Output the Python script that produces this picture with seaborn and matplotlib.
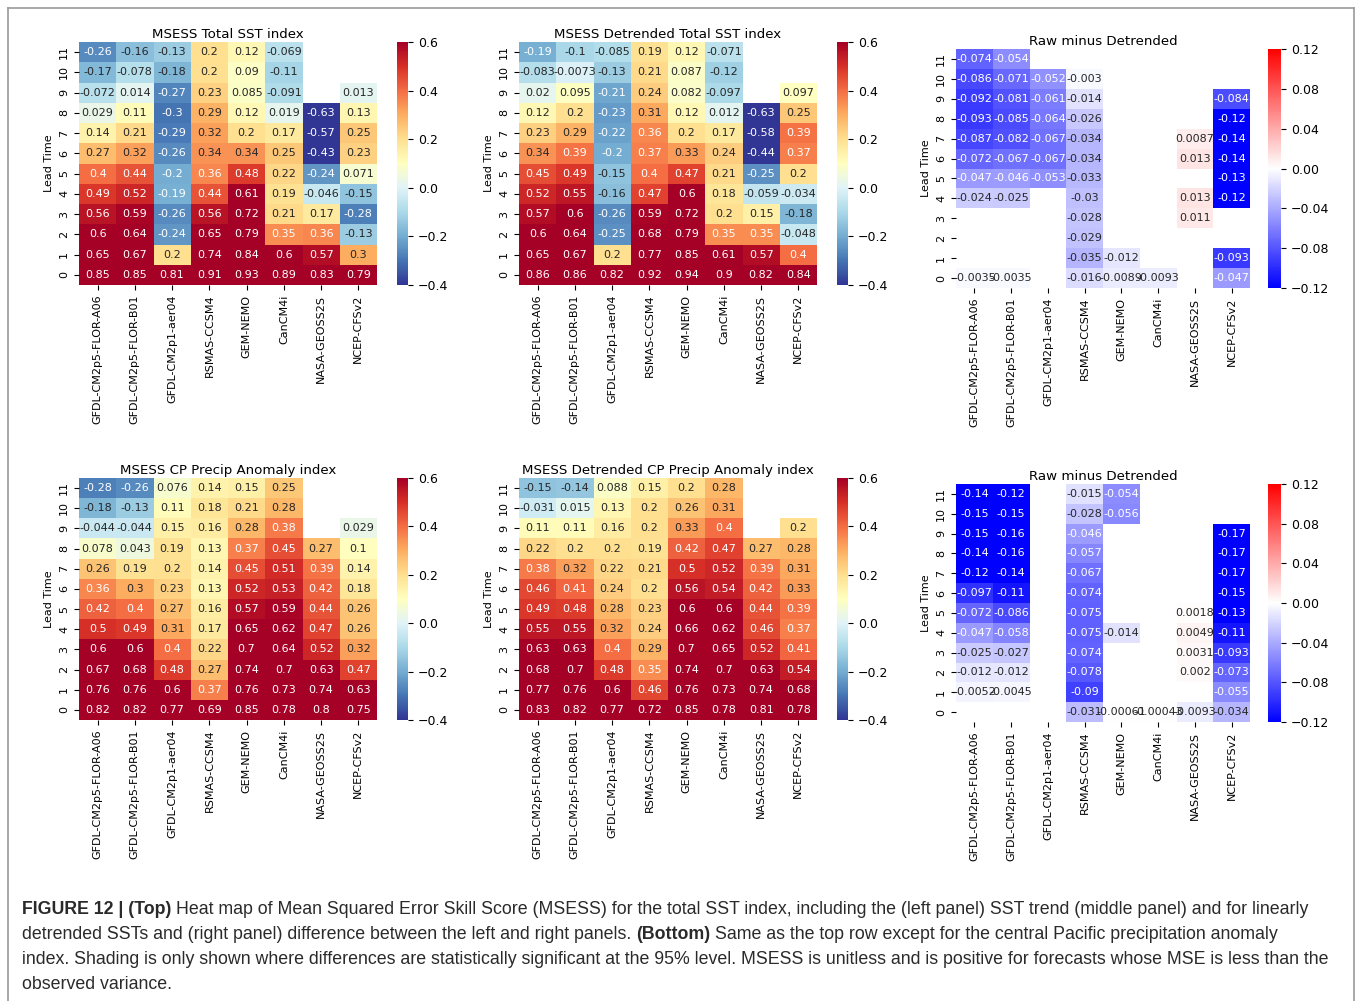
import numpy as np
import pandas as pd
import matplotlib
matplotlib.use("Agg")
import matplotlib.pyplot as plt
import matplotlib.transforms as mtransforms
from matplotlib import font_manager
from matplotlib.lines import Line2D
import seaborn as sns

W, H = 1358, 1001
nan = np.nan

models = ["GFDL-CM2p5-FLOR-A06", "GFDL-CM2p5-FLOR-B01", "GFDL-CM2p1-aer04",
          "RSMAS-CCSM4", "GEM-NEMO", "CanCM4i", "NASA-GEOSS2S", "NCEP-CFSv2"]
leads = list(range(11, -1, -1))

# rows are lead 11 (top) down to lead 0 (bottom)
sst_total = [
    [-0.26, -0.16, -0.13, 0.2, 0.12, -0.069, nan, nan],
    [-0.17, -0.078, -0.18, 0.2, 0.09, -0.11, nan, nan],
    [-0.072, 0.014, -0.27, 0.23, 0.085, -0.091, nan, 0.013],
    [0.029, 0.11, -0.3, 0.29, 0.12, 0.019, -0.63, 0.13],
    [0.14, 0.21, -0.29, 0.32, 0.2, 0.17, -0.57, 0.25],
    [0.27, 0.32, -0.26, 0.34, 0.34, 0.25, -0.43, 0.23],
    [0.4, 0.44, -0.2, 0.36, 0.48, 0.22, -0.24, 0.071],
    [0.49, 0.52, -0.19, 0.44, 0.61, 0.19, -0.046, -0.15],
    [0.56, 0.59, -0.26, 0.56, 0.72, 0.21, 0.17, -0.28],
    [0.6, 0.64, -0.24, 0.65, 0.79, 0.35, 0.36, -0.13],
    [0.65, 0.67, 0.2, 0.74, 0.84, 0.6, 0.57, 0.3],
    [0.85, 0.85, 0.81, 0.91, 0.93, 0.89, 0.83, 0.79],
]

sst_detrended = [
    [-0.19, -0.1, -0.085, 0.19, 0.12, -0.071, nan, nan],
    [-0.083, -0.0073, -0.13, 0.21, 0.087, -0.12, nan, nan],
    [0.02, 0.095, -0.21, 0.24, 0.082, -0.097, nan, 0.097],
    [0.12, 0.2, -0.23, 0.31, 0.12, 0.012, -0.63, 0.25],
    [0.23, 0.29, -0.22, 0.36, 0.2, 0.17, -0.58, 0.39],
    [0.34, 0.39, -0.2, 0.37, 0.33, 0.24, -0.44, 0.37],
    [0.45, 0.49, -0.15, 0.4, 0.47, 0.21, -0.25, 0.2],
    [0.52, 0.55, -0.16, 0.47, 0.6, 0.18, -0.059, -0.034],
    [0.57, 0.6, -0.26, 0.59, 0.72, 0.2, 0.15, -0.18],
    [0.6, 0.64, -0.25, 0.68, 0.79, 0.35, 0.35, -0.048],
    [0.65, 0.67, 0.2, 0.77, 0.85, 0.61, 0.57, 0.4],
    [0.86, 0.86, 0.82, 0.92, 0.94, 0.9, 0.82, 0.84],
]

sst_diff = [
    [-0.074, -0.054, nan, nan, nan, nan, nan, nan],
    [-0.086, -0.071, -0.052, -0.003, nan, nan, nan, nan],
    [-0.092, -0.081, -0.061, -0.014, nan, nan, nan, -0.084],
    [-0.093, -0.085, -0.064, -0.026, nan, nan, nan, -0.12],
    [-0.087, -0.082, -0.067, -0.034, nan, nan, 0.0087, -0.14],
    [-0.072, -0.067, -0.067, -0.034, nan, nan, 0.013, -0.14],
    [-0.047, -0.046, -0.053, -0.033, nan, nan, nan, -0.13],
    [-0.024, -0.025, nan, -0.03, nan, nan, 0.013, -0.12],
    [nan, nan, nan, -0.028, nan, nan, 0.011, nan],
    [nan, nan, nan, -0.029, nan, nan, nan, nan],
    [nan, nan, nan, -0.035, -0.012, nan, nan, -0.093],
    [-0.0035, -0.0035, nan, -0.016, -0.0089, -0.0093, nan, -0.047],
]

cp_total = [
    [-0.28, -0.26, 0.076, 0.14, 0.15, 0.25, nan, nan],
    [-0.18, -0.13, 0.11, 0.18, 0.21, 0.28, nan, nan],
    [-0.044, -0.044, 0.15, 0.16, 0.28, 0.38, nan, 0.029],
    [0.078, 0.043, 0.19, 0.13, 0.37, 0.45, 0.27, 0.1],
    [0.26, 0.19, 0.2, 0.14, 0.45, 0.51, 0.39, 0.14],
    [0.36, 0.3, 0.23, 0.13, 0.52, 0.53, 0.42, 0.18],
    [0.42, 0.4, 0.27, 0.16, 0.57, 0.59, 0.44, 0.26],
    [0.5, 0.49, 0.31, 0.17, 0.65, 0.62, 0.47, 0.26],
    [0.6, 0.6, 0.4, 0.22, 0.7, 0.64, 0.52, 0.32],
    [0.67, 0.68, 0.48, 0.27, 0.74, 0.7, 0.63, 0.47],
    [0.76, 0.76, 0.6, 0.37, 0.76, 0.73, 0.74, 0.63],
    [0.82, 0.82, 0.77, 0.69, 0.85, 0.78, 0.8, 0.75],
]

cp_detrended = [
    [-0.15, -0.14, 0.088, 0.15, 0.2, 0.28, nan, nan],
    [-0.031, 0.015, 0.13, 0.2, 0.26, 0.31, nan, nan],
    [0.11, 0.11, 0.16, 0.2, 0.33, 0.4, nan, 0.2],
    [0.22, 0.2, 0.2, 0.19, 0.42, 0.47, 0.27, 0.28],
    [0.38, 0.32, 0.22, 0.21, 0.5, 0.52, 0.39, 0.31],
    [0.46, 0.41, 0.24, 0.2, 0.56, 0.54, 0.42, 0.33],
    [0.49, 0.48, 0.28, 0.23, 0.6, 0.6, 0.44, 0.39],
    [0.55, 0.55, 0.32, 0.24, 0.66, 0.62, 0.46, 0.37],
    [0.63, 0.63, 0.4, 0.29, 0.7, 0.65, 0.52, 0.41],
    [0.68, 0.7, 0.48, 0.35, 0.74, 0.7, 0.63, 0.54],
    [0.77, 0.76, 0.6, 0.46, 0.76, 0.73, 0.74, 0.68],
    [0.83, 0.82, 0.77, 0.72, 0.85, 0.78, 0.81, 0.78],
]

cp_diff = [
    [-0.14, -0.12, nan, -0.015, -0.054, nan, nan, nan],
    [-0.15, -0.15, nan, -0.028, -0.056, nan, nan, nan],
    [-0.15, -0.16, nan, -0.046, nan, nan, nan, -0.17],
    [-0.14, -0.16, nan, -0.057, nan, nan, nan, -0.17],
    [-0.12, -0.14, nan, -0.067, nan, nan, nan, -0.17],
    [-0.097, -0.11, nan, -0.074, nan, nan, nan, -0.15],
    [-0.072, -0.086, nan, -0.075, nan, nan, 0.0018, -0.13],
    [-0.047, -0.058, nan, -0.075, -0.014, nan, 0.0049, -0.11],
    [-0.025, -0.027, nan, -0.074, nan, nan, 0.0031, -0.093],
    [-0.012, -0.012, nan, -0.078, nan, nan, 0.002, -0.073],
    [-0.0052, -0.0045, nan, -0.09, nan, nan, nan, -0.055],
    [nan, nan, nan, -0.031, -0.00061, -0.00043, -0.0093, -0.034],
]

skill_ticks = [-0.4, -0.2, 0.0, 0.2, 0.4, 0.6]
diff_ticks = [-0.12, -0.08, -0.04, 0.0, 0.04, 0.08, 0.12]


def px_axes(fig, box):
    """box = (left, top, right, bottom) in pixels from the top-left corner"""
    x0, y0, x1, y1 = box
    return fig.add_axes([x0 / W, 1 - y1 / H, (x1 - x0) / W, (y1 - y0) / H])


def panel(fig, values, title, box, cbox, cmap, vmin, vmax, ticks):
    df = pd.DataFrame(values, index=leads, columns=models)
    ax = px_axes(fig, box)
    cax = px_axes(fig, cbox)
    sns.heatmap(df, ax=ax, cbar_ax=cax, cmap=cmap, vmin=vmin, vmax=vmax,
                annot=True, fmt=".2g", annot_kws={"size": 8},
                cbar_kws={"ticks": ticks})
    ax.set_title(title, fontsize=9.6, pad=3)
    ax.set_ylabel("Lead Time", fontsize=8)
    ax.set_xlabel("")
    ax.tick_params(labelsize=8)
    plt.setp(ax.get_xticklabels(), rotation=90)
    plt.setp(ax.get_yticklabels(), rotation=90, va="center")
    cax.tick_params(labelsize=9)
    return ax


fig = plt.figure(figsize=(W / 100, H / 100), dpi=100)

panel(fig, sst_total, "MSESS Total SST index",
      (79, 42, 377, 285), (397, 42, 408, 285), "RdYlBu_r", -0.4, 0.6, skill_ticks)
panel(fig, sst_detrended, "MSESS Detrended Total SST index",
      (519, 42, 817, 285), (837, 42, 848, 285), "RdYlBu_r", -0.4, 0.6, skill_ticks)
panel(fig, sst_diff, "Raw minus Detrended",
      (956, 49, 1250, 288), (1268, 49, 1281, 288), "bwr", -0.12, 0.12, diff_ticks)
panel(fig, cp_total, "MSESS CP Precip Anomaly index",
      (79, 478, 377, 720), (397, 478, 408, 720), "RdYlBu_r", -0.4, 0.6, skill_ticks)
panel(fig, cp_detrended, "MSESS Detrended CP Precip Anomaly index",
      (519, 478, 817, 720), (837, 478, 848, 720), "RdYlBu_r", -0.4, 0.6, skill_ticks)
panel(fig, cp_diff, "Raw minus Detrended",
      (956, 484, 1250, 722), (1268, 484, 1281, 722), "bwr", -0.12, 0.12, diff_ticks)

# frame around the figure
frame_kw = dict(color="#9a9a9a", lw=1.2, transform=fig.transFigure)
fig.add_artist(Line2D([8 / W, 1354 / W], [1 - 8 / H, 1 - 8 / H], **frame_kw))
fig.add_artist(Line2D([8 / W, 8 / W], [0, 1 - 8 / H], **frame_kw))
fig.add_artist(Line2D([1354 / W, 1354 / W], [0, 1 - 8 / H], **frame_kw))

# caption with bold pieces
names = {f.name for f in font_manager.fontManager.ttflist}
cap_family = "Liberation Sans Narrow" if "Liberation Sans Narrow" in names else "Liberation Sans"
caption = [
    [("FIGURE 12 | (Top)", "bold"),
     ("Heat map of Mean Squared Error Skill Score (MSESS) for the total SST index, "
      "including the (left panel) SST trend (middle panel) and for linearly", "normal")],
    [("detrended SSTs and (right panel) difference between the left and right panels.", "normal"),
     ("(Bottom)", "bold"),
     ("Same as the top row except for the central Pacific precipitation anomaly", "normal")],
    [("index. Shading is only shown where differences are statistically significant at the "
      "95% level. MSESS is unitless and is positive for forecasts whose MSE is less than the",
      "normal")],
    [("observed variance.", "normal")],
]
baselines = [914, 939, 964, 989]
ident = mtransforms.IdentityTransform()
fig.canvas.draw()
renderer = fig.canvas.get_renderer()


def text_width(s, size, weight):
    t = fig.text(0, 0, s, fontsize=size, fontweight=weight, family=cap_family,
                 transform=ident)
    w = t.get_window_extent(renderer).width
    t.remove()
    return w


def line_width(segs, size):
    space = text_width("x x", size, "normal") - text_width("xx", size, "normal")
    total = sum(text_width(s, size, wt) for s, wt in segs)
    return total + space * (len(segs) - 1), space


w10, _ = line_width(caption[0], 10)
cap_size = 10 * 1294 / w10
_, space = line_width(caption[0], cap_size)

for segs, base in zip(caption, baselines):
    x = 22
    for s, wt in segs:
        t = fig.text(x, H - base, s, fontsize=cap_size, fontweight=wt,
                     family=cap_family, color="#2a2a2a", va="baseline",
                     transform=ident)
        x += t.get_window_extent(renderer).width + space

fig.savefig("out.png", dpi=100)
